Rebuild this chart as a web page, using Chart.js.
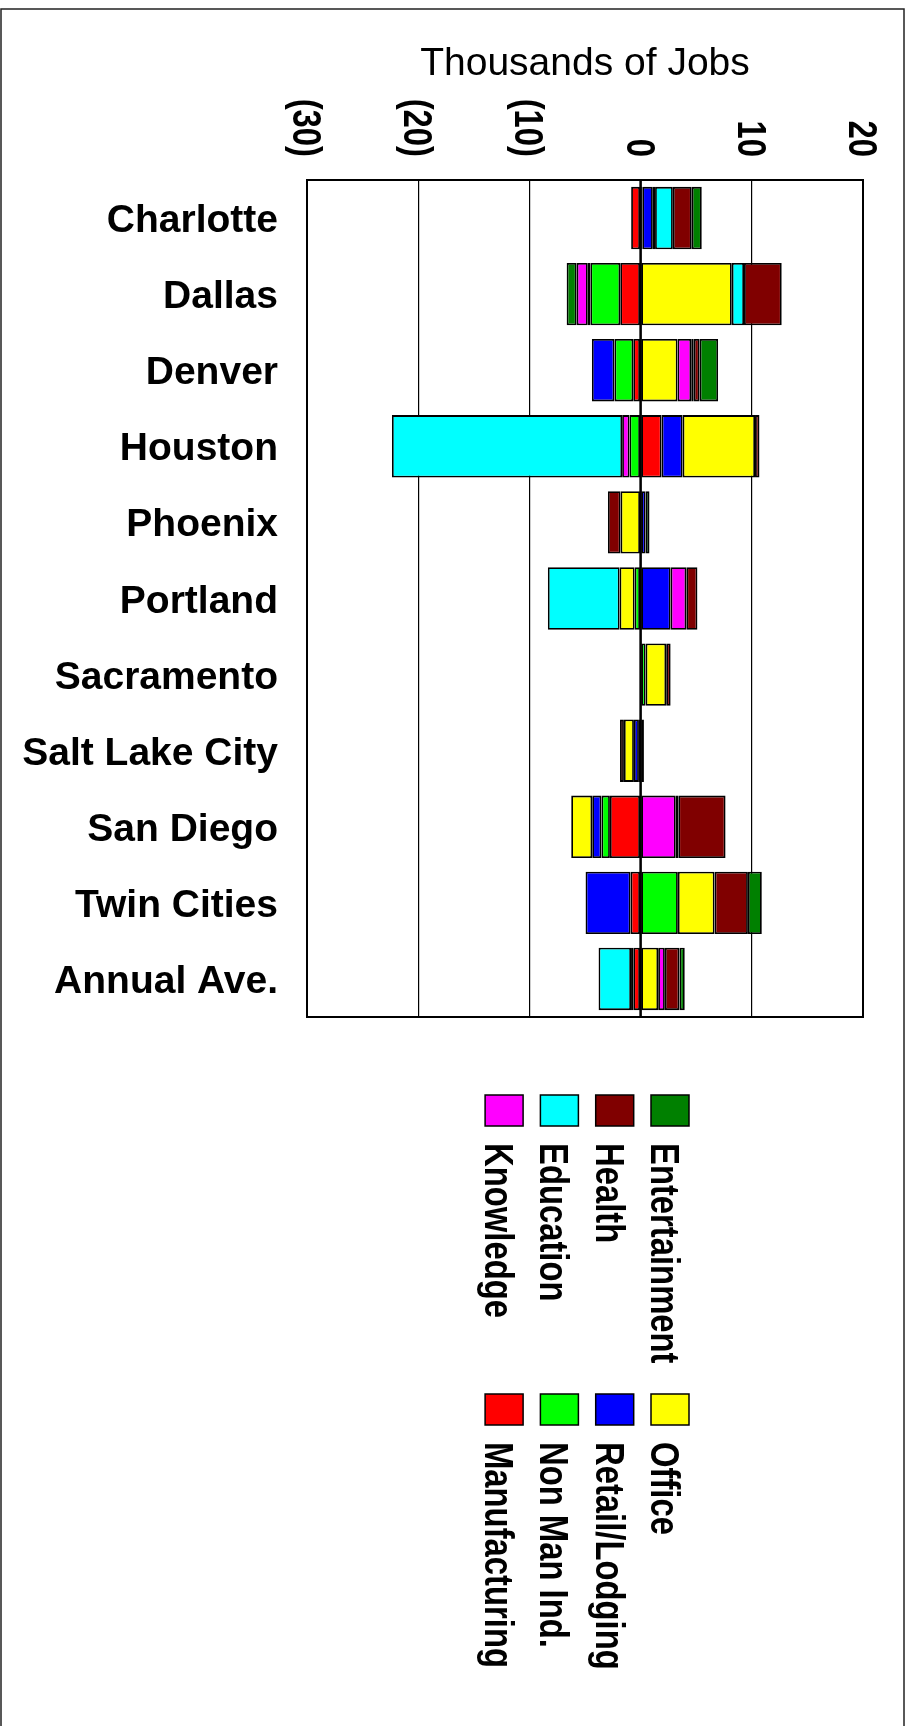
<!DOCTYPE html>
<html>
<head>
<meta charset="utf-8">
<title>Job Change by Sector</title>
<script src="https://cdn.jsdelivr.net/npm/chart.js@4.4.1/dist/chart.umd.min.js"></script>
<style>
  html, body { margin: 0; padding: 0; background: #fff; }
  #wrap { position: relative; width: 911px; height: 1726px; }
</style>
</head>
<body>
<div id="wrap"><canvas id="jobsChart"></canvas></div>
<script>
/* Metro areas, top to bottom */
const cities = ['Charlotte', 'Dallas', 'Denver', 'Houston', 'Phoenix', 'Portland',
  'Sacramento', 'Salt Lake City', 'San Diego', 'Twin Cities', 'Annual Ave.'];

/* Axis ticks, thousands of jobs */
const tickValues = [-30, -20, -10, 0, 10, 20];

/* Change in jobs by sector (thousands); null = no change */
const manufacturing = [-0.85, -1.83, -0.66, 1.89, null, null, null, -0.15, -2.76, -0.9, -0.66];
const nonManInd     = [0.15, -2.69, -1.69, -1.0, null, -0.54, 0.45, null, -0.76, 3.35, null];
const retailLodging = [0.95, -0.23, -2.03, 1.89, 0.45, 2.7, null, -0.45, -0.83, -4.05, -0.2];
const office        = [null, 8.2, 3.32, 6.51, -1.8, -1.35, 1.85, -0.9, -1.89, 3.3, 1.58];
const knowledge     = [0.2, -1.0, 1.23, -0.66, null, 1.41, null, null, 3.16, null, 0.6];
const education     = [1.6, 1.1, 0.23, -20.7, null, -6.45, null, 0.3, 0.23, null, -2.92];
const health        = [1.7, 3.39, 0.53, 0.4, -1.14, 1.0, 0.4, -0.35, 4.25, 3.0, 1.31];
const entertainment = [0.9, -0.9, 1.66, null, 0.35, null, null, null, null, 1.25, 0.48];

/* Stack order, from zero outward */
const sectorNames = ['Manufacturing', 'Non Man Ind.', 'Retail/Lodging', 'Office',
  'Knowledge', 'Education', 'Health', 'Entertainment'];
const sectorValues = [manufacturing, nonManInd, retailLodging, office,
  knowledge, education, health, entertainment];
const sectorColors = ['#ff0000', '#00ff00', '#0000ff', '#ffff00',
  '#ff00ff', '#00ffff', '#800000', '#008000'];

const FONT = '"Liberation Sans", Arial, Helvetica, sans-serif';

function tickText(v) {
  return v < 0 ? '(' + (-v) + ')' : String(v);
}

/* Text running top-to-bottom, squeezed along its length */
function drawDownText(ctx, text, x, y, align, offset) {
  ctx.save();
  ctx.translate(x, y);
  ctx.rotate(Math.PI / 2);
  ctx.scale(0.82, 1);
  ctx.textAlign = align;
  ctx.textBaseline = 'alphabetic';
  ctx.fillText(text, 0, offset);
  ctx.restore();
}

const overlay = {
  id: 'overlay',
  afterDatasetsDraw(chart) {
    const { ctx, chartArea: a, scales } = chart;
    const zx = scales.x.getPixelForValue(0);
    ctx.save();
    // zero axis over the bars
    ctx.strokeStyle = '#000';
    ctx.lineWidth = 2.5;
    ctx.beginPath();
    ctx.moveTo(zx, a.top);
    ctx.lineTo(zx, a.bottom);
    ctx.stroke();
    // plot frame
    ctx.lineWidth = 2;
    ctx.strokeRect(a.left, a.top, a.right - a.left, a.bottom - a.top);
    ctx.restore();
  },
  afterDraw(chart) {
    const { ctx, scales } = chart;
    ctx.save();
    ctx.fillStyle = '#000';

    // outer frame
    ctx.strokeStyle = '#222';
    ctx.lineWidth = 1.5;
    ctx.strokeRect(1, 9, 903, 1740);

    // axis title
    ctx.font = '39px ' + FONT;
    ctx.textAlign = 'center';
    ctx.textBaseline = 'alphabetic';
    ctx.fillText('Thousands of Jobs', 585, 75);

    // tick labels, rotated
    ctx.font = 'bold 40px ' + FONT;
    tickValues.forEach(v => {
      const x = scales.x.getPixelForValue(v);
      drawDownText(ctx, tickText(v), x, 157, 'right', 14);
    });

    // city labels
    ctx.font = 'bold 39px ' + FONT;
    ctx.textAlign = 'right';
    cities.forEach((c, i) => {
      const y = scales.y.getPixelForValue(i);
      ctx.fillText(c, 278, y + 14);
    });

    // legend: two rows of four, reversed stack order
    const items = sectorNames.map((n, i) => i).reverse();
    ctx.font = 'bold 40px ' + FONT;
    items.forEach((idx, k) => {
      const col = k % 4;
      const row = Math.floor(k / 4);
      const x = 651 - col * 55.3;
      const y = 1095 + row * 299;
      ctx.fillStyle = sectorColors[idx];
      ctx.fillRect(x, y, 38, 31);
      ctx.strokeStyle = '#000';
      ctx.lineWidth = 1.5;
      ctx.strokeRect(x, y, 38, 31);
      ctx.fillStyle = '#000';
      drawDownText(ctx, sectorNames[idx], x, y + 48, 'left', 0);
    });
    ctx.restore();
  }
};

const datasets = sectorNames.map((name, i) => ({
  label: name,
  data: sectorValues[i],
  backgroundColor: sectorColors[i],
  borderColor: '#000',
  borderWidth: 1.8,
  borderSkipped: false,
  categoryPercentage: 1,
  barPercentage: 0.82
}));

new Chart(document.getElementById('jobsChart'), {
  type: 'bar',
  data: { labels: cities, datasets: datasets },
  options: {
    indexAxis: 'y',
    responsive: true,
    maintainAspectRatio: false,
    animation: false,
    layout: { padding: { left: 307, right: 48, top: 180, bottom: 709 } },
    plugins: {
      legend: { display: false },
      tooltip: { enabled: false }
    },
    scales: {
      x: {
        position: 'top',
        stacked: true,
        min: -30,
        max: 20,
        ticks: { display: false, stepSize: 10 },
        grid: { color: '#000', lineWidth: 1.2, drawTicks: false },
        border: { display: false }
      },
      y: {
        stacked: true,
        display: false
      }
    }
  },
  plugins: [overlay]
});
</script>
</body>
</html>
